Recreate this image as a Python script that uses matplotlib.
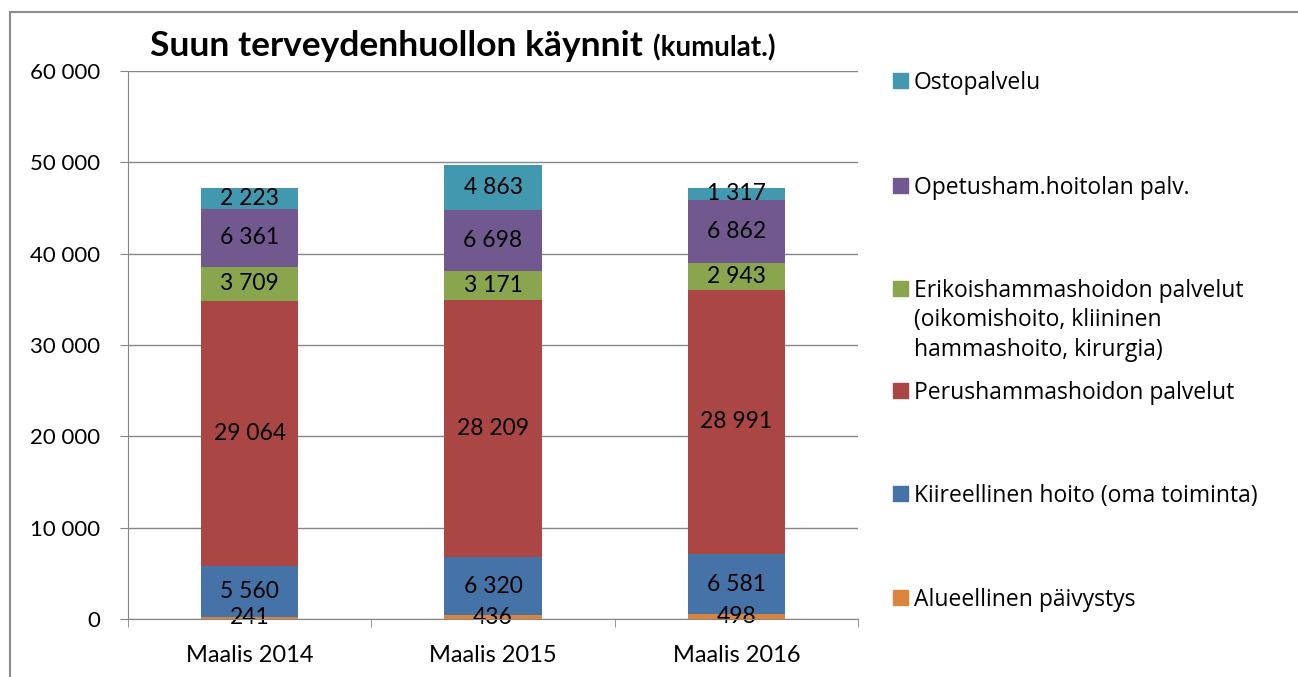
import matplotlib.pyplot as plt
from matplotlib.patches import Rectangle
import numpy as np

# Data
categories = ['Maalis 2014', 'Maalis 2015', 'Maalis 2016']
series = ['Alueellinen päivystys',
          'Kiireellinen hoito (oma toiminta)',
          'Perushammashoidon palvelut',
          'Erikoishammashoidon palvelut\n(oikomishoito, kliininen\nhammashoito, kirurgia)',
          'Opetusham.hoitolan palv.',
          'Ostopalvelu']
alueellinen = [241, 436, 498]
kiireellinen = [5560, 6320, 6581]
perus = [29064, 28209, 28991]
erikois = [3709, 3171, 2943]
opetus = [6361, 6698, 6862]
osto = [2223, 4863, 1317]
colors = ['#DB843D', '#4572A7', '#AA4643', '#89A54E', '#71588F', '#4198AF']

values = [alueellinen, kiireellinen, perus, erikois, opetus, osto]

W, H = 1298, 677
fig = plt.figure(figsize=(W / 100, H / 100), dpi=100)
ax = fig.add_axes([128 / W, 58 / H, 730 / W, 548 / H])

grid_col = '#868686'
font = 'Lato'

x = np.arange(len(categories))
bottom = np.zeros(len(categories))
for vals, col in zip(values, colors):
    bars = ax.bar(x, vals, 0.40, bottom=bottom, color=col, zorder=3)
    for b, v, b0 in zip(bars, vals, bottom):
        ax.text(b.get_x() + b.get_width() / 2, b0 + v / 2,
                f'{v:,}'.replace(',', ' '), ha='center', va='center',
                fontsize=16.5, family=font, color='black', zorder=4)
    bottom += np.array(vals)

ax.set_xlim(-0.5, 2.5)
ax.set_ylim(0, 60000)
ax.set_yticks(np.arange(0, 60001, 10000))
ax.set_yticklabels([f'{v:,}'.replace(',', ' ') for v in range(0, 60001, 10000)],
                   fontsize=16, family=font)
ax.set_xticks(x)
ax.set_xticklabels(categories, fontsize=17, family=font)
ax.set_xticks([-0.5, 0.5, 1.5, 2.5], minor=True)
ax.tick_params(axis='x', which='major', length=0, pad=19)
ax.tick_params(axis='x', which='minor', length=6, color=grid_col)
ax.tick_params(axis='y', length=6, color=grid_col, pad=14)
ax.yaxis.grid(True, color=grid_col, linewidth=1, zorder=0)
for s in ['top', 'right']:
    ax.spines[s].set_visible(False)
for s in ['left', 'bottom']:
    ax.spines[s].set_color(grid_col)
    ax.spines[s].set_zorder(5)

# Title in two parts
t1 = fig.text(150 / W, 1 - 56 / H, 'Suun terveydenhuollon käynnit',
              fontsize=25.5, fontweight='bold', family=font, va='baseline')
fig.canvas.draw()
ext = t1.get_window_extent()
fig.text((ext.x1 + 10) / W, 1 - 56 / H, '(kumulat.)', fontsize=20,
         fontweight='bold', family=font, va='baseline')

# Legend, top entry first
leg_y = [81, 186, 289, 391, 494, 598]
for name, col, yy in zip(series[::-1], colors[::-1], leg_y):
    fig.patches.append(Rectangle((893 / W, 1 - (yy + 7) / H), 15 / W, 15 / H,
                                 transform=fig.transFigure, color=col))
    fig.text(914 / W, 1 - (yy - 10) / H, name, fontsize=16.5, family='Open Sans',
             va='top', linespacing=1.3)

# Outer frame
fig.patches.append(Rectangle((10 / W, -0.1), 1.2, 1 - 12 / H + 0.1,
                             transform=fig.transFigure, fill=False,
                             edgecolor='#8c8c8c', linewidth=1.5))

plt.savefig('out.png', dpi=100)
